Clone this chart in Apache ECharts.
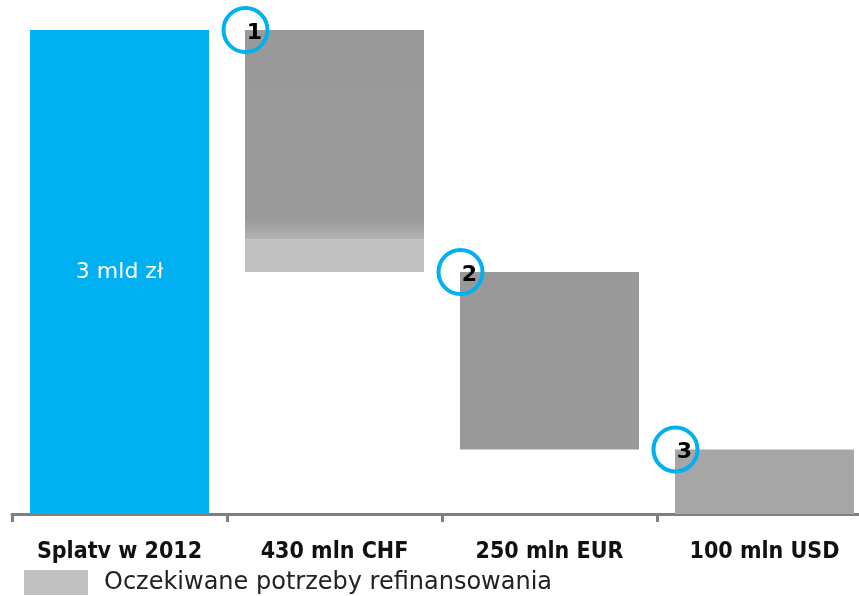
<!DOCTYPE html>
<html>
<head>
<meta charset="utf-8">
<script src="https://cdn.jsdelivr.net/npm/echarts@6/dist/echarts.min.js"></script>
<style>
html, body { margin: 0; padding: 0; background: #fff; }
#chart { width: 859px; height: 596px; }
</style>
</head>
<body>
<div id="chart"></div>
<script>
// kategorie i wartosci (mld zl)
var categories = ['Splatv w 2012', '430 mln CHF', '250 mln EUR', '100 mln USD'];
var baseValues = [0, 1.5, 0.4, 0];        // niewidoczna podstawa (waterfall)
var refinValues = ['-', 0.2, '-', '-'];   // jasna czesc - oczekiwane potrzeby refinansowania
var mainValues = [3, 1.3, 1.1, 0.4];
var markerNumbers = ['1', '2', '3'];
var markerPoints = [[1, 3], [2, 1.5], [3, 0.4]];
var totalLabel = '3 mld zł';
var legendName = 'Oczekiwane potrzeby refinansowania';

var chart = echarts.init(document.getElementById('chart'));

var barColors = [
	'#00b0f0',
	new echarts.graphic.LinearGradient(0, 0, 0, 1, [
		{offset: 0, color: '#999999'},
		{offset: 0.9, color: '#9a9a9a'},
		{offset: 1, color: '#b3b3b3'}
	]),
	'#999999',
	'#a6a6a6'
];

var mainData = [];
for (var i = 0; i < mainValues.length; i++) {
	var item = {value: mainValues[i], itemStyle: {color: barColors[i]}};
	if (i == 0) {
		item.label = {show: true, position: 'inside', formatter: totalLabel, color: '#fff',
			fontFamily: 'DejaVu Sans', fontSize: 22};
	}
	mainData.push(item);
}

var markerData = [];
for (var j = 0; j < markerPoints.length; j++) {
	markerData.push({value: markerPoints[j], name: markerNumbers[j]});
}

var option = {
	animation: false,
	grid: {left: 12, width: 860, top: 30, bottom: 82, outerBoundsMode: 'none'},
	legend: {
		left: 19, top: 565,
		icon: 'rect',
		itemWidth: 64, itemHeight: 25, itemGap: 10,
		data: [legendName],
		textStyle: {fontFamily: 'DejaVu Sans', fontSize: 24, color: '#222', padding: [0, 0, 0, 11]}
	},
	xAxis: {
		type: 'category',
		data: categories,
		axisLine: {lineStyle: {color: '#7f7f7f', width: 3}},
		axisTick: {show: true, interval: 0, length: 8, lineStyle: {color: '#7f7f7f', width: 3}},
		axisLabel: {interval: 0, hideOverlap: false, margin: 27, color: '#111', fontWeight: 'bold',
			fontFamily: 'DejaVu Sans Condensed', fontSize: 23}
	},
	yAxis: {type: 'value', min: 0, max: 3, show: false},
	series: [
		{
			type: 'bar', stack: 'w', barWidth: 179,
			itemStyle: {color: 'transparent'},
			data: baseValues
		},
		{
			name: legendName, type: 'bar', stack: 'w', barWidth: 179,
			itemStyle: {color: '#c0c0c0'},
			data: refinValues
		},
		{
			type: 'bar', stack: 'w', barWidth: 179,
			data: mainData
		},
		{
			type: 'scatter',
			symbol: 'circle', symbolSize: 44, symbolOffset: [-89, 0],
			itemStyle: {color: 'transparent', borderColor: '#00b0f0', borderWidth: 4, opacity: 1},
			label: {show: true, formatter: '{b}', position: 'inside', offset: [9, 3],
				color: '#000', fontWeight: 'bold', fontFamily: 'DejaVu Sans', fontSize: 22},
			z: 5,
			data: markerData
		}
	]
};
chart.setOption(option);
</script>
</body>
</html>
